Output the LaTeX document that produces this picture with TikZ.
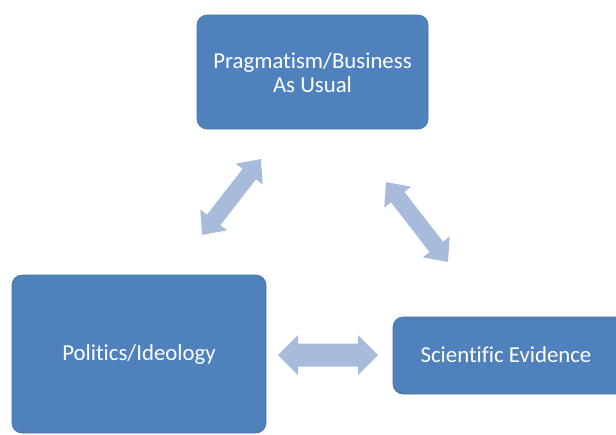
\documentclass[tikz,border=0pt]{standalone}
\usepackage{fontspec}
\setmainfont[Ligatures=NoCommon]{Carlito}
\definecolor{boxblue}{HTML}{4F81BD}
\definecolor{boxedge}{HTML}{41719C}
\definecolor{arrowblue}{HTML}{A9BBDA}
\tikzset{
  box/.style={fill=boxblue, draw=boxedge, line width=0.6pt, rounded corners=10pt},
  boxtext/.style={text=white, font=\fontsize{22.8}{24}\selectfont, align=center},
  dblarr/.style={fill=arrowblue, draw=none}
}
% center x, center y (y down), angle, length, half shaft, half head, head length
\newcommand{\DblArrow}[7]{%
  \begin{scope}[shift={(#1,#2)}, rotate=#3]
    \fill[dblarr] (-#4/2,0) -- (-#4/2+#7,#6) -- (-#4/2+#7,#5) -- (#4/2-#7,#5)
      -- (#4/2-#7,#6) -- (#4/2,0) -- (#4/2-#7,-#6) -- (#4/2-#7,-#5)
      -- (-#4/2+#7,-#5) -- (-#4/2+#7,-#6) -- cycle;
  \end{scope}}
\begin{document}
\begin{tikzpicture}[x=1pt,y=-1pt]
\useasboundingbox (0,0) rectangle (616,434);
\clip (0,0) rectangle (616,434);
% boxes
\draw[box] (197,15) rectangle (428,129);
\node[boxtext] (prag) at (312.5,73) {Pragmatism/Business\\As Usual};
\draw[box] (12,275) rectangle (266,433);
\node[boxtext] (pol) at (139,355) {Politics/Ideology};
\draw[box] (393,317) rectangle (640,394);
\node[boxtext] (sci) at (506,355) {Scientific Evidence};
% arrows
\DblArrow{231.5}{197}{52.2}{96}{8.5}{17}{19}
\DblArrow{417}{222}{-52.2}{101}{8.5}{17}{19}
\DblArrow{328}{355}{0}{100}{11.5}{20}{20}
\end{tikzpicture}
\end{document}
